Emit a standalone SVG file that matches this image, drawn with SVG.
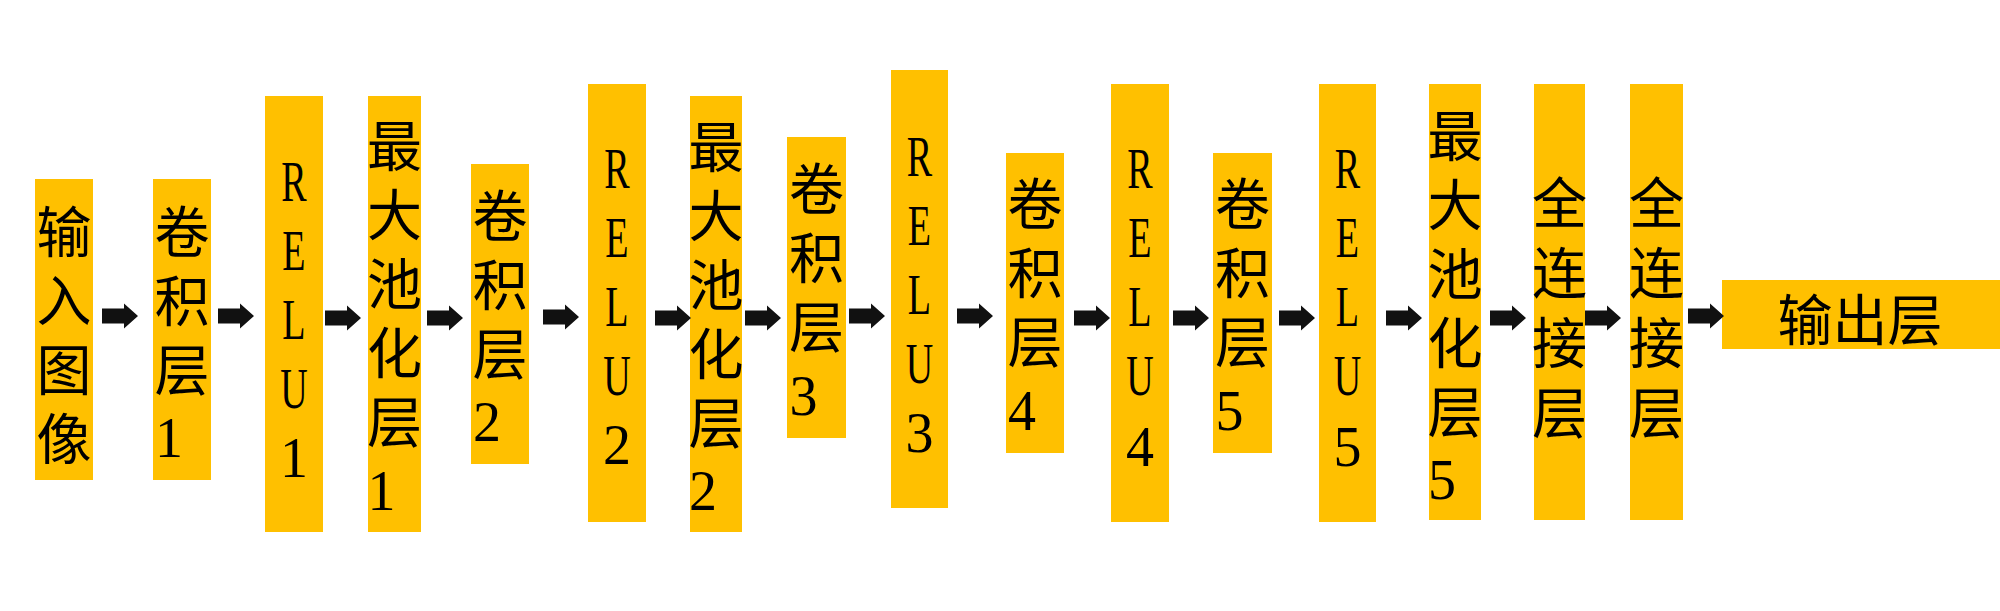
<svg xmlns="http://www.w3.org/2000/svg" width="2000" height="611" viewBox="0 0 2000 611">
<style>
.box{fill:#FFC000}
.cjk{font-family:"Noto Sans CJK SC",sans-serif;font-size:55px;fill:#000;text-anchor:middle}
.vcol{font-family:"Noto Sans CJK SC",sans-serif;font-size:55px;fill:#000;writing-mode:vertical-rl;text-orientation:upright;letter-spacing:14px}
.lat{font-family:"Liberation Serif",serif;font-size:56px;fill:#000;text-anchor:middle}
.dig{font-family:"Liberation Serif",serif;font-size:56px;fill:#000;text-anchor:start}
.arr{fill:#111}
</style>
<defs>
<path id="arrow" d="M0,-7.5 H22 V-12.5 L36,0 L22,12.5 V7.5 H0 Z"/>
</defs>
<rect width="2000" height="611" fill="#fff"/>
<g id="n1">
<rect class="box" x="35" y="179" width="58" height="301"/>
<text class="vcol" x="64" y="203.5">输入图像</text>
</g>
<g id="n2">
<rect class="box" x="153" y="179" width="58" height="301"/>
<text class="vcol" x="182" y="203.5">卷积层</text>
<text class="dig" x="155" y="457">1</text>
</g>
<g id="n3">
<rect class="box" x="265" y="96" width="58" height="436"/>
<text class="lat" transform="translate(294 0) scale(0.68 1)"><tspan x="0" y="201">R</tspan><tspan x="0" y="270">E</tspan><tspan x="0" y="339">L</tspan><tspan x="0" y="408">U</tspan></text>
<text class="lat" x="294" y="477">1</text>
</g>
<g id="n4">
<rect class="box" x="368" y="96" width="53" height="436"/>
<text class="vcol" x="394.5" y="117.5">最大池化层</text>
<text class="dig" x="367.5" y="510">1</text>
</g>
<g id="n5">
<rect class="box" x="471" y="164" width="58" height="300"/>
<text class="vcol" x="500" y="187.5">卷积层</text>
<text class="dig" x="473" y="441">2</text>
</g>
<g id="n6">
<rect class="box" x="588" y="84" width="58" height="438"/>
<text class="lat" transform="translate(617 0) scale(0.68 1)"><tspan x="0" y="188">R</tspan><tspan x="0" y="257">E</tspan><tspan x="0" y="326">L</tspan><tspan x="0" y="395">U</tspan></text>
<text class="lat" x="617" y="464">2</text>
</g>
<g id="n7">
<rect class="box" x="690" y="96" width="52" height="436"/>
<text class="vcol" x="716" y="118.5">最大池化层</text>
<text class="dig" x="689" y="510">2</text>
</g>
<g id="n8">
<rect class="box" x="787" y="137" width="59" height="301"/>
<text class="vcol" x="816.5" y="160.5">卷积层</text>
<text class="dig" x="789.5" y="415">3</text>
</g>
<g id="n9">
<rect class="box" x="891" y="70" width="57" height="438"/>
<text class="lat" transform="translate(919.5 0) scale(0.68 1)"><tspan x="0" y="176">R</tspan><tspan x="0" y="245">E</tspan><tspan x="0" y="314">L</tspan><tspan x="0" y="383">U</tspan></text>
<text class="lat" x="919.5" y="452">3</text>
</g>
<g id="n10">
<rect class="box" x="1006" y="153" width="58" height="300"/>
<text class="vcol" x="1035" y="175.5">卷积层</text>
<text class="dig" x="1008" y="430">4</text>
</g>
<g id="n11">
<rect class="box" x="1111" y="84" width="58" height="438"/>
<text class="lat" transform="translate(1140 0) scale(0.68 1)"><tspan x="0" y="188">R</tspan><tspan x="0" y="257">E</tspan><tspan x="0" y="326">L</tspan><tspan x="0" y="395">U</tspan></text>
<text class="lat" x="1140" y="466">4</text>
</g>
<g id="n12">
<rect class="box" x="1213" y="153" width="59" height="300"/>
<text class="vcol" x="1242.5" y="175.5">卷积层</text>
<text class="dig" x="1215.5" y="430">5</text>
</g>
<g id="n13">
<rect class="box" x="1319" y="84" width="57" height="438"/>
<text class="lat" transform="translate(1347.5 0) scale(0.68 1)"><tspan x="0" y="188">R</tspan><tspan x="0" y="257">E</tspan><tspan x="0" y="326">L</tspan><tspan x="0" y="395">U</tspan></text>
<text class="lat" x="1347.5" y="466">5</text>
</g>
<g id="n14">
<rect class="box" x="1429" y="84" width="52" height="436"/>
<text class="vcol" x="1455" y="107.5">最大池化层</text>
<text class="dig" x="1428" y="499">5</text>
</g>
<g id="n15">
<rect class="box" x="1534" y="84" width="51" height="436"/>
<text class="vcol" x="1559.5" y="174.5" style="letter-spacing:15px">全连接层</text>
</g>
<g id="n16">
<rect class="box" x="1630" y="84" width="53" height="436"/>
<text class="vcol" x="1656.5" y="174.5" style="letter-spacing:15px">全连接层</text>
</g>
<g id="n17">
<rect class="box" x="1722" y="280" width="278" height="69"/>
<text class="cjk" x="1860" y="339.5">输出层</text>
</g>
<g id="connectors" class="arr">
<use href="#arrow" x="102" y="316"/>
<use href="#arrow" x="218" y="316"/>
<use href="#arrow" x="325" y="318"/>
<use href="#arrow" x="427" y="318"/>
<use href="#arrow" x="543" y="317"/>
<use href="#arrow" x="655" y="318"/>
<use href="#arrow" x="745" y="318"/>
<use href="#arrow" x="849" y="316"/>
<use href="#arrow" x="957" y="316"/>
<use href="#arrow" x="1074" y="318"/>
<use href="#arrow" x="1173" y="318"/>
<use href="#arrow" x="1279" y="318"/>
<use href="#arrow" x="1386" y="318"/>
<use href="#arrow" x="1490" y="318"/>
<use href="#arrow" x="1585" y="318"/>
<use href="#arrow" x="1688" y="316"/>
</g>
</svg>
